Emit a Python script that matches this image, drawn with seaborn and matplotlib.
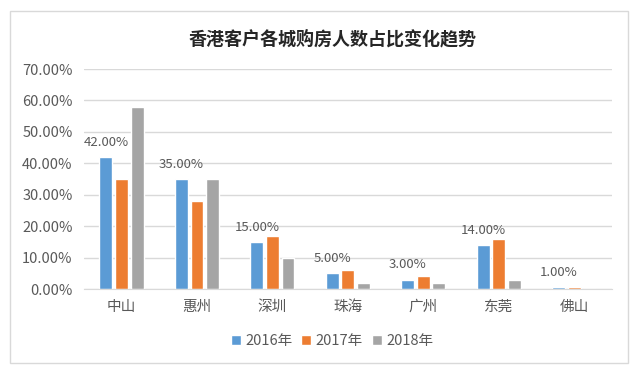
import pandas as pd
import seaborn as sns
import matplotlib.pyplot as plt
import matplotlib.ticker as mtick
from matplotlib.patches import Rectangle

# data (percent)
cities = ["中山", "惠州", "深圳", "珠海", "广州", "东莞", "佛山"]
years = ["2016年", "2017年", "2018年"]
share_2016 = [42, 35, 15, 5, 3, 14, 0.6]
share_2017 = [35, 28, 17, 6, 4, 16, 0.6]
share_2018 = [58, 35, 10, 2, 2, 3, 0]
label_2016 = [42, 35, 15, 5, 3, 14, 1]  # data labels shown above the 2016 bars
colors = ["#5B9BD5", "#ED7D31", "#A5A5A5"]

sns.set_style("white")
plt.rcParams['font.family'] = ['Noto Sans CJK SC', 'DejaVu Sans']

df = pd.DataFrame({
    "city": cities * 3,
    "year": [y for y in years for _ in cities],
    "share": share_2016 + share_2017 + share_2018,
})

fig = plt.figure(figsize=(6.4, 3.71), dpi=100)
ax = fig.add_axes([0.131, 0.221, 0.825, 0.593])

sns.barplot(
    data=df, x="city", y="share", hue="year",
    order=cities, hue_order=years, palette=colors, saturation=1,
    width=0.62, gap=0.17, ax=ax, legend=True,
)

# labels above the 2016 bars
for bar, val in zip(ax.containers[0], label_2016):
    x = bar.get_x() + bar.get_width() / 2
    ax.annotate(f"{val:.2f}%", (x, bar.get_height()), xytext=(0, 6),
                textcoords="offset points", ha="center", va="bottom",
                fontsize=9.5, color="#595959")

ax.set_ylim(0, 70)
ax.set_yticks(range(0, 71, 10))
ax.yaxis.set_major_formatter(mtick.FuncFormatter(lambda v, p: f"{v:.2f}%"))
ax.grid(axis='y', color="#D9D9D9", linewidth=1)
ax.set_axisbelow(True)
for s in ["top", "right", "left"]:
    ax.spines[s].set_visible(False)
ax.spines["bottom"].set_color("#D9D9D9")
ax.tick_params(axis='both', length=0, labelsize=10.5, labelcolor="#595959")
ax.tick_params(axis='x', pad=8)
ax.tick_params(axis='y', pad=8)
ax.set_xlabel("")
ax.set_ylabel("")
ax.set_xlim(-0.5, 6.5)

ax.legend(loc="center", bbox_to_anchor=(0.47, -0.235), ncol=3, frameon=False,
          fontsize=10.5, handlelength=0.7, handleheight=0.7, handletextpad=0.3,
          columnspacing=0.6, labelcolor="#595959")

fig.text(0.52, 0.895, "香港客户各城购房人数占比变化趋势", ha="center", va="center",
         fontsize=13, fontweight="bold", color="#262626")

fig.patches.append(Rectangle((0.0156, 0.0216), 0.966, 0.949, transform=fig.transFigure,
                             fill=False, edgecolor="#D9D9D9", linewidth=1))

fig.savefig("out.png", dpi=100)
